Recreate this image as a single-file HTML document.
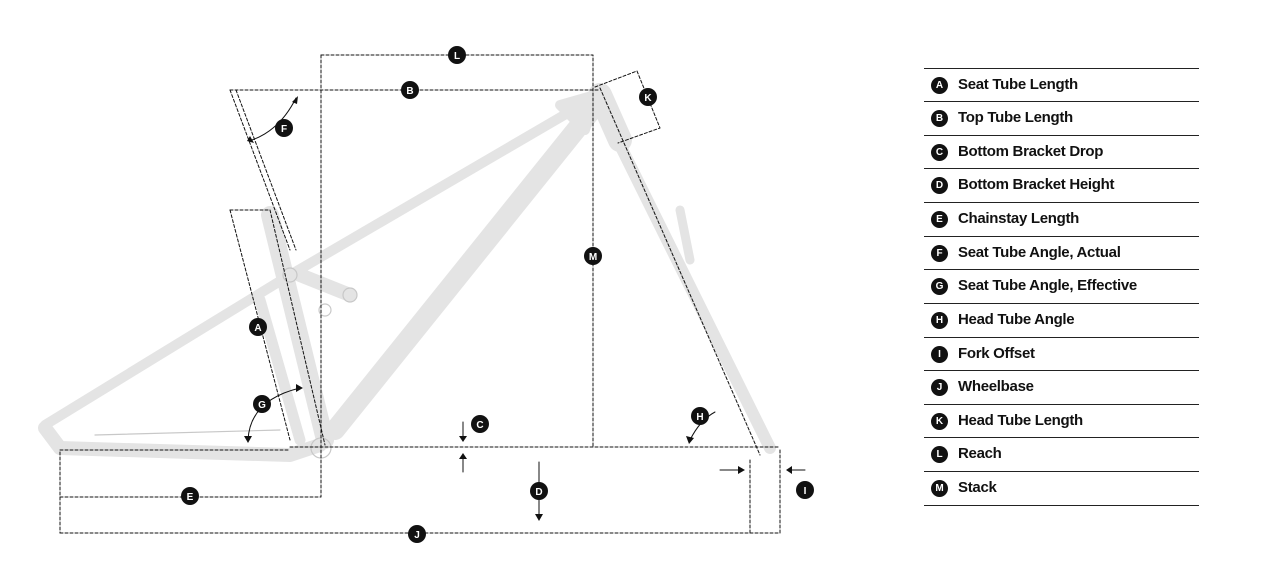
<!DOCTYPE html>
<html><head><style>
body{margin:0;background:#fff;width:1263px;height:570px;overflow:hidden;font-family:"Liberation Sans",sans-serif}
svg{position:absolute;left:0;top:0}
.lg{position:absolute;left:924px;width:275px;border-top:1px solid #222;height:33px}
.lg b{position:absolute;left:34px;top:7px;font-size:15px;font-weight:bold;color:#111;letter-spacing:-0.3px}
.lg i{position:absolute;left:7px;top:8px;width:17px;height:17px;border-radius:50%;background:#111;color:#fff;font-style:normal;font-weight:bold;font-size:10px;text-align:center;line-height:17px;font-family:"Liberation Sans",sans-serif}
</style></head><body>
<svg width="1263" height="570" viewBox="0 0 1263 570">
<g fill="none" stroke-linecap="round" stroke-linejoin="round">
<g stroke="#e4e4e4">
<path d="M590 100 L290 275 L45 425" stroke-width="10"/>
<path d="M592 110 L335 430" stroke-width="20"/>
<path d="M270 215 L325 440" stroke-width="18"/>
<path d="M45 428 L60 448 L290 455 L320 445" stroke-width="14"/>
<path d="M260 300 L300 440" stroke-width="11"/>
<path d="M600 95 L620 140" stroke-width="24"/>
<path d="M620 145 L770 448" stroke-width="12"/>
<path d="M300 275 L350 295" stroke-width="14"/>
<path d="M560 105 L595 95 L585 130 Z" stroke-width="10" fill="#e4e4e4"/>
<path d="M680 210 L690 260" stroke-width="9"/>
</g>
<g stroke="#c8c8c8" stroke-width="1.2">
<path d="M95 435 L280 430"/><circle cx="321" cy="448" r="10"/><circle cx="290" cy="275" r="7"/><circle cx="350" cy="295" r="7"/><circle cx="325" cy="310" r="6"/>
</g>
<g stroke="#111" stroke-width="1" stroke-dasharray="3,2">
<path d="M321 55 H593 V447"/><path d="M321 55 V497 H60 V450"/>
<path d="M230 90 H598"/>
<path d="M230 90 L290 250"/><path d="M236 90 L296 250"/>
<path d="M230 210 H270 L325 445"/><path d="M230 210 L290 440"/>
<path d="M290 447 H780"/><path d="M60 450 H290"/>
<path d="M60 533 H780"/><path d="M60 497 V533"/><path d="M750 460 V533"/><path d="M780 450 V533"/>
<path d="M600 88 L760 455"/>
<path d="M595 87 L637 71 L660 128 L618 143"/>
</g>
<g stroke="#111" stroke-width="1">
<path d="M463 422 V440 M463 472 V455 M539 462 V518 M720 470 H742 M805 470 H790"/>
<path d="M252 140 Q280 130 296 98"/>
<path d="M248 440 Q250 400 300 388"/>
<path d="M690 440 Q700 420 715 412"/>
</g>
<g fill="#111">
<path d="M459 436 L467 436 L463 442Z M459 459 L467 459 L463 453Z M535 514 L543 514 L539 521Z M738 466 L738 474 L745 470Z M792 466 L792 474 L786 470Z"/>
<path d="M292 102 L298 96 L297 104Z M250 136 L254 143 L247 141Z M244 436 L252 436 L248 443Z M296 384 L303 388 L296 392Z M686 436 L694 438 L689 444Z"/>
</g>
</g>
<g font-family="Liberation Sans,sans-serif" font-weight="bold" font-size="10" fill="#fff" text-anchor="middle">
<g fill="#111">
<circle cx="457" cy="55" r="9"/><circle cx="410" cy="90" r="9"/><circle cx="648" cy="97" r="9"/><circle cx="284" cy="128" r="9"/><circle cx="593" cy="256" r="9"/><circle cx="258" cy="327" r="9"/><circle cx="262" cy="404" r="9"/><circle cx="700" cy="416" r="9"/><circle cx="480" cy="424" r="9"/><circle cx="539" cy="491" r="9"/><circle cx="190" cy="496" r="9"/><circle cx="805" cy="490" r="9"/><circle cx="417" cy="534" r="9"/>
</g>
<text x="457" y="59">L</text><text x="410" y="94">B</text><text x="648" y="101">K</text><text x="284" y="132">F</text><text x="593" y="260">M</text><text x="258" y="331">A</text><text x="262" y="408">G</text><text x="700" y="420">H</text><text x="480" y="428">C</text><text x="539" y="495">D</text><text x="190" y="500">E</text><text x="805" y="494">I</text><text x="417" y="538">J</text>
</g>
</svg>
<div class="lg" style="top:68px"><i>A</i><b>Seat Tube Length</b></div>
<div class="lg" style="top:101px"><i>B</i><b>Top Tube Length</b></div>
<div class="lg" style="top:135px"><i>C</i><b>Bottom Bracket Drop</b></div>
<div class="lg" style="top:168px"><i>D</i><b>Bottom Bracket Height</b></div>
<div class="lg" style="top:202px"><i>E</i><b>Chainstay Length</b></div>
<div class="lg" style="top:236px"><i>F</i><b>Seat Tube Angle, Actual</b></div>
<div class="lg" style="top:269px"><i>G</i><b>Seat Tube Angle, Effective</b></div>
<div class="lg" style="top:303px"><i>H</i><b>Head Tube Angle</b></div>
<div class="lg" style="top:337px"><i>I</i><b>Fork Offset</b></div>
<div class="lg" style="top:370px"><i>J</i><b>Wheelbase</b></div>
<div class="lg" style="top:404px"><i>K</i><b>Head Tube Length</b></div>
<div class="lg" style="top:437px"><i>L</i><b>Reach</b></div>
<div class="lg" style="top:471px;height:33px;border-bottom:1px solid #222"><i>M</i><b>Stack</b></div>
</body></html>
